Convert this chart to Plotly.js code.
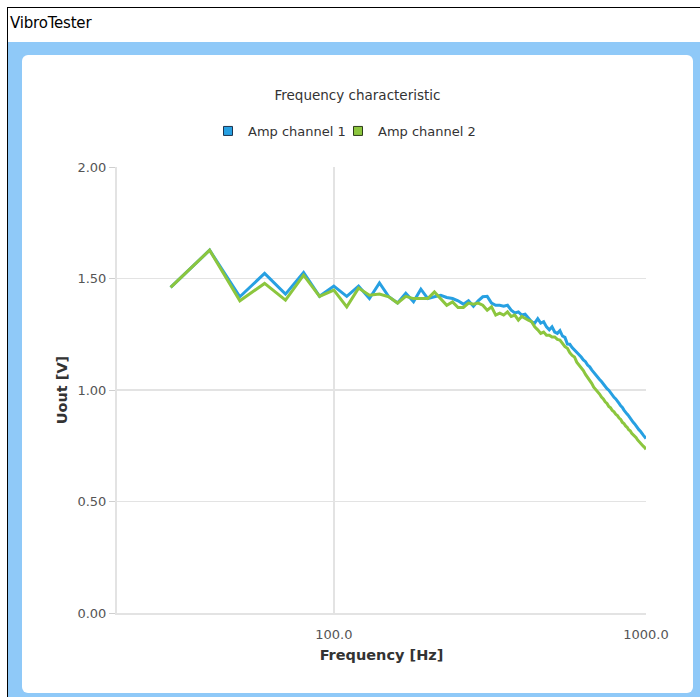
<!DOCTYPE html>
<html>
<head>
<meta charset="utf-8">
<script src="https://cdn.plot.ly/plotly-3.0.1.min.js"></script>
<style>
  html, body { margin: 0; padding: 0; background: #ffffff; width: 700px; height: 697px; overflow: hidden; }
  #frame { position: absolute; left: 7px; top: 7px; width: 693px; height: 690px; background: #8fc9f8; border-left: 1px solid #000; border-top: 1px solid #000; box-sizing: border-box; }
  #titlebar { position: absolute; left: 8px; top: 8px; width: 692px; height: 34px; background: #ffffff; font-family: "DejaVu Sans", sans-serif; font-size: 15px; color: #000; }
  #titlebar span { position: absolute; left: 2px; top: 6px; letter-spacing: -0.2px; }
  #panel { position: absolute; left: 22px; top: 55px; width: 671px; height: 638px; background: #ffffff; border-radius: 6px; }
  #chart { position: absolute; left: 0; top: 0; width: 700px; height: 697px; }
</style>
</head>
<body>
<div id="frame"></div>
<div id="titlebar"><span>VibroTester</span></div>
<div id="panel"></div>
<div id="chart"></div>
<script>
const freqHz = [30, 40, 50, 60, 70, 80, 90, 100, 110, 120, 130, 140, 150, 160, 170, 180, 190, 200,
  210, 220, 230, 240, 250, 260, 270, 280, 290, 300, 310, 320, 330, 340, 350, 360, 370, 380, 390, 400,
  410, 420, 430, 440, 450, 460, 470, 480, 490, 500, 510, 520, 530, 540, 550, 560, 570, 580, 590, 600,
  610, 620, 630, 640, 650, 660, 670, 680, 690, 700, 710, 720, 730, 740, 750, 760, 770, 780, 790, 800,
  810, 820, 830, 840, 850, 860, 870, 880, 890, 900, 910, 920, 930, 940, 950, 960, 970, 980, 990, 1000];

const ampChannel1 = [1.46, 1.627, 1.418, 1.523, 1.43, 1.527, 1.42, 1.466, 1.42, 1.466, 1.41, 1.48, 1.418, 1.39, 1.434, 1.396, 1.452, 1.41,
  1.418, 1.425, 1.415, 1.41, 1.40, 1.385, 1.40, 1.376, 1.40, 1.418, 1.42, 1.39, 1.38, 1.38, 1.376, 1.38, 1.358, 1.346, 1.35, 1.336,
  1.34, 1.32, 1.306, 1.30, 1.32, 1.30, 1.306, 1.283, 1.27, 1.283, 1.26, 1.254, 1.266, 1.242, 1.236, 1.206, 1.205, 1.19, 1.18, 1.168,
  1.16, 1.148, 1.135, 1.127, 1.112, 1.104, 1.09, 1.078, 1.068, 1.058, 1.047, 1.038, 1.026, 1.018, 1.006, 0.999, 0.987, 0.98, 0.967, 0.96,
  0.947, 0.94, 0.929, 0.922, 0.91, 0.903, 0.892, 0.884, 0.873, 0.866, 0.855, 0.848, 0.838, 0.832, 0.821, 0.815, 0.804, 0.798, 0.79, 0.782];

const ampChannel2 = [1.46, 1.627, 1.40, 1.478, 1.403, 1.515, 1.42, 1.448, 1.373, 1.457, 1.425, 1.43, 1.418, 1.39, 1.42, 1.41, 1.41, 1.41,
  1.44, 1.41, 1.38, 1.395, 1.37, 1.37, 1.39, 1.385, 1.39, 1.38, 1.358, 1.373, 1.336, 1.345, 1.336, 1.35, 1.33, 1.336, 1.313, 1.33,
  1.32, 1.313, 1.306, 1.283, 1.27, 1.254, 1.26, 1.246, 1.246, 1.238, 1.238, 1.227, 1.224, 1.209, 1.194, 1.187, 1.167, 1.155, 1.148, 1.125,
  1.113, 1.098, 1.087, 1.07, 1.058, 1.042, 1.03, 1.013, 1.003, 0.99, 0.982, 0.968, 0.96, 0.947, 0.94, 0.926, 0.92, 0.908, 0.902, 0.891,
  0.885, 0.874, 0.868, 0.855, 0.85, 0.839, 0.833, 0.822, 0.817, 0.806, 0.8, 0.792, 0.786, 0.776, 0.77, 0.762, 0.755, 0.748, 0.742, 0.734];

const seriesNames = ["Amp channel 1", "Amp channel 2"];
const xTickVals = [100, 1000];
const xTickText = ["100.0", "1000.0"];
const yTickVals = [0, 0.5, 1.0, 1.5, 2.0];
const yTickText = ["0.00", "0.50", "1.00", "1.50", "2.00"];

const blue = "#27a0e2";
const green = "#8cc63e";
const font = "DejaVu Sans, Verdana, sans-serif";

const traces = [
  { x: freqHz, y: ampChannel1, type: "scatter", mode: "lines", name: seriesNames[0],
    line: { color: blue, width: 3 }, showlegend: false, hoverinfo: "x+y" },
  { x: freqHz, y: ampChannel2, type: "scatter", mode: "lines", name: seriesNames[1],
    line: { color: green, width: 3 }, showlegend: false, hoverinfo: "x+y" },
  { x: [null], y: [null], type: "scatter", mode: "markers", name: seriesNames[0], legend: "legend",
    marker: { symbol: "square", size: 9, color: blue, line: { color: "#1d3550", width: 1 } } },
  { x: [null], y: [null], type: "scatter", mode: "markers", name: seriesNames[1], legend: "legend2",
    marker: { symbol: "square", size: 9, color: green, line: { color: "#2e3d1a", width: 1 } } }
];

const legendBase = { orientation: "h", xref: "container", yref: "container", xanchor: "left",
  y: 1 - 131 / 697, yanchor: "middle", font: { family: font, size: 13, color: "#333" },
  itemwidth: 30, bgcolor: "rgba(0,0,0,0)" };

const layout = {
  width: 700, height: 697,
  paper_bgcolor: "rgba(0,0,0,0)",
  plot_bgcolor: "rgba(0,0,0,0)",
  margin: { l: 117, r: 54, t: 167, b: 84 },
  font: { family: font, size: 13, color: "#444" },
  title: { text: "Frequency characteristic", font: { family: font, size: 13.5, color: "#333" },
    x: 357.5 / 700, xref: "container", xanchor: "center", y: 1 - 95 / 697, yref: "container", yanchor: "middle" },
  showlegend: true,
  legend: Object.assign({}, legendBase, { x: 208 / 700 }),
  legend2: Object.assign({}, legendBase, { x: 338 / 700 }),
  xaxis: {
    type: "log", range: [Math.log10(20.2), 3],
    tickvals: xTickVals, ticktext: xTickText,
    showgrid: true, gridcolor: "#e3e3e3", gridwidth: 1.5,
    showline: true, linecolor: "#e3e3e3", linewidth: 2,
    ticks: "", zeroline: false, ticklabelstandoff: 8,
    tickfont: { family: font, size: 13, color: "#555" },
    title: { text: "Frequency [Hz]", font: { family: font, size: 14.5, color: "#333", weight: "bold" }, standoff: 9 }
  },
  yaxis: {
    range: [0, 2], tickvals: yTickVals, ticktext: yTickText,
    showgrid: true, gridcolor: "#e3e3e3", gridwidth: 1.5,
    showline: true, linecolor: "#e3e3e3", linewidth: 2,
    ticks: "outside", ticklen: 6, tickcolor: "#cfcfcf", tickwidth: 1,
    zeroline: false,
    tickfont: { family: font, size: 13, color: "#555" },
    title: { text: "Uout [V]", font: { family: font, size: 14.5, color: "#333", weight: "bold" }, standoff: 6 }
  }
};

Plotly.newPlot("chart", traces, layout, { displayModeBar: false, staticPlot: true });
</script>
</body>
</html>
